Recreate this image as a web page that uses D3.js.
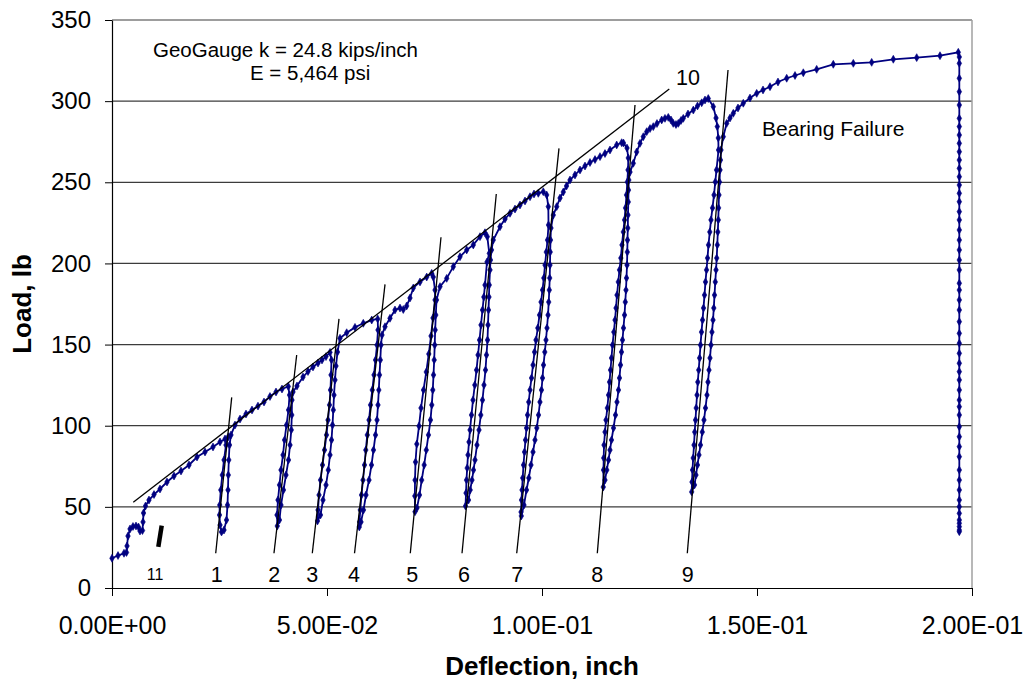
<!DOCTYPE html>
<html>
<head>
<meta charset="utf-8">
<script src="https://cdn.jsdelivr.net/npm/d3@7"></script>
<style>
  body { margin: 0; background: #fff; }
  svg { display: block; font-family: Arial, "Liberation Sans", sans-serif; }
  .tick text { font-size: 24px; fill: #000; }
  .x-axis .tick text { font-size: 25px; }
  .note { font-size: 20.5px; }
  .note.big { font-size: 21px; }
  .cycle-label { font-size: 21.5px; text-anchor: middle; }
  .axis-title { font-size: 26px; font-weight: bold; text-anchor: middle; }
</style>
</head>
<body>
<svg id="chart" width="1026" height="684"></svg>
<script>
// deflection (inch), load (lb) pairs, one array per load cycle
const initialLoading = [
  [0.0000, 18.3], [0.00140, 20.0], [0.00279, 21.4], [0.00337, 21.9], [0.00349, 25.9], [0.00372, 32.0],
  [0.00419, 36.4], [0.00488, 37.9], [0.00558, 38.2], [0.00616, 37.6], [0.00651, 35.1], [0.00709, 35.4],
  [0.00721, 40.7], [0.00733, 46.2], [0.00779, 50.5], [0.00860, 54.2], [0.00977, 57.6], [0.01116, 61.0],
  [0.01279, 65.3], [0.01442, 69.0], [0.01605, 72.1], [0.01791, 75.8], [0.01977, 80.7], [0.02163, 83.8],
  [0.02349, 86.9], [0.02512, 90.0], [0.02628, 91.8], [0.02705, 93.2]
];
const cycle1 = [
  [0.02651, 88.1], [0.02605, 78.9], [0.02565, 69.6], [0.02530, 60.4], [0.02505, 51.1], [0.02500, 45.0],
  [0.02512, 38.8], [0.02547, 34.5], [0.02605, 35.7], [0.02663, 41.9], [0.02686, 51.1], [0.02698, 60.4],
  [0.02705, 69.6], [0.02716, 78.9], [0.02733, 88.1], [0.02767, 94.3], [0.02860, 100.4], [0.02977, 104.1],
  [0.03116, 107.2], [0.03256, 109.7], [0.03395, 112.1], [0.03535, 114.6], [0.03674, 118.0], [0.03814, 120.8],
  [0.03953, 122.6], [0.04100, 124.2]
];
const cycle2 = [
  [0.04128, 118.9], [0.04105, 109.7], [0.04058, 100.4], [0.04012, 91.2], [0.03977, 82.0], [0.03930, 72.7],
  [0.03895, 63.5], [0.03860, 54.2], [0.03837, 45.0], [0.03844, 38.2], [0.03895, 41.9], [0.03930, 51.1],
  [0.03988, 60.4], [0.04046, 69.6], [0.04105, 78.9], [0.04140, 88.1], [0.04170, 97.4], [0.04181, 106.6],
  [0.04186, 115.8], [0.04209, 120.8], [0.04302, 124.5], [0.04442, 130.0], [0.04558, 133.4], [0.04674, 136.2],
  [0.04791, 138.6], [0.04884, 140.5], [0.04977, 142.6], [0.05070, 145.2]
];
const cycle3 = [
  [0.05105, 140.5], [0.05093, 131.3], [0.05081, 122.0], [0.05058, 112.8], [0.05023, 103.5], [0.04988, 94.3],
  [0.04942, 85.0], [0.04895, 75.8], [0.04849, 66.5], [0.04814, 57.3], [0.04791, 48.1], [0.04779, 41.3],
  [0.04849, 45.0], [0.04907, 54.2], [0.04977, 63.5], [0.05030, 72.7], [0.05070, 82.0], [0.05105, 91.2],
  [0.05128, 100.4], [0.05147, 109.7], [0.05163, 118.9], [0.05186, 128.2], [0.05209, 136.8], [0.05244, 145.4],
  [0.05302, 153.9], [0.05458, 157.3], [0.05651, 160.6], [0.05844, 163.1], [0.06040, 165.1], [0.06179, 165.8]
];
const cycle4 = [
  [0.06186, 159.0], [0.06163, 149.7], [0.06128, 140.5], [0.06093, 131.3], [0.06053, 122.0], [0.06012, 112.8],
  [0.05977, 103.5], [0.05937, 94.3], [0.05902, 85.0], [0.05872, 75.8], [0.05837, 66.5], [0.05802, 57.3],
  [0.05774, 48.1], [0.05756, 40.7], [0.05751, 37.6], [0.05791, 40.7], [0.05849, 48.1], [0.05907, 57.3],
  [0.05977, 66.5], [0.06035, 75.8], [0.06081, 85.0], [0.06128, 94.3], [0.06163, 103.5], [0.06186, 112.8],
  [0.06205, 122.0], [0.06221, 131.3], [0.06240, 140.5], [0.06256, 149.7], [0.06279, 155.9], [0.06349, 161.0],
  [0.06465, 166.2], [0.06581, 171.3], [0.06698, 172.5], [0.06774, 171.6], [0.06853, 173.8], [0.06930, 178.7],
  [0.07007, 184.9], [0.07163, 188.6], [0.07319, 191.6], [0.07435, 193.9]
];
const cycle5 = [
  [0.07472, 191.6], [0.07512, 183.6], [0.07512, 177.5], [0.07465, 166.4], [0.07419, 155.3], [0.07367, 144.2],
  [0.07309, 133.1], [0.07244, 122.0], [0.07186, 110.9], [0.07140, 99.8], [0.07088, 88.7], [0.07058, 77.6],
  [0.07047, 66.5], [0.07042, 56.7], [0.07047, 47.0], [0.07093, 49.3], [0.07151, 57.3], [0.07202, 66.5],
  [0.07260, 75.8], [0.07309, 85.0], [0.07360, 94.3], [0.07407, 103.5], [0.07437, 112.8], [0.07460, 122.0],
  [0.07477, 131.3], [0.07493, 140.5], [0.07505, 149.7], [0.07516, 159.0], [0.07530, 168.2], [0.07547, 177.5],
  [0.07628, 185.7], [0.07784, 190.8], [0.07937, 198.0], [0.08093, 204.1], [0.08249, 208.3], [0.08402, 211.4],
  [0.08558, 216.5], [0.08674, 218.9]
];
const cycle6 = [
  [0.08728, 216.5], [0.08774, 206.2], [0.08721, 200.9], [0.08674, 186.7], [0.08647, 179.3], [0.08616, 171.3],
  [0.08581, 162.1], [0.08547, 152.8], [0.08512, 143.6], [0.08477, 134.3], [0.08437, 125.1], [0.08395, 115.8],
  [0.08360, 106.6], [0.08326, 97.4], [0.08302, 90.0], [0.08279, 82.0], [0.08260, 73.9], [0.08244, 66.5],
  [0.08233, 58.5], [0.08221, 50.5], [0.08291, 54.2], [0.08330, 60.4], [0.08372, 66.5], [0.08407, 72.7],
  [0.08442, 78.9], [0.08488, 88.1], [0.08535, 97.4], [0.08577, 106.6], [0.08616, 115.8], [0.08651, 125.1],
  [0.08686, 134.3], [0.08709, 143.6], [0.08733, 152.8], [0.08744, 162.1], [0.08756, 171.3], [0.08767, 179.3],
  [0.08774, 186.7], [0.08791, 196.0], [0.08802, 202.1], [0.08826, 208.3], [0.08867, 214.4], [0.09023, 222.6],
  [0.09140, 227.4], [0.09256, 230.9], [0.09372, 233.5], [0.09488, 236.0], [0.09605, 238.5], [0.09721, 241.1],
  [0.09814, 242.8], [0.09914, 243.2], [0.10030, 244.2]
];
const cycle7 = [
  [0.10109, 242.2], [0.10147, 235.0], [0.10151, 223.7], [0.10128, 214.4], [0.10100, 207.0], [0.10070, 199.0],
  [0.10042, 191.0], [0.10012, 183.6], [0.09977, 176.2], [0.09942, 168.2], [0.09902, 160.2], [0.09860, 152.8],
  [0.09826, 145.4], [0.09791, 137.4], [0.09756, 129.4], [0.09721, 122.0], [0.09691, 114.6], [0.09663, 106.6],
  [0.09640, 98.6], [0.09616, 91.2], [0.09593, 83.8], [0.09570, 75.8], [0.09551, 67.8], [0.09535, 60.4],
  [0.09523, 54.2], [0.09512, 46.8], [0.09519, 44.4], [0.09581, 51.1], [0.09640, 60.4], [0.09693, 67.8],
  [0.09744, 75.8], [0.09791, 83.8], [0.09837, 91.2], [0.09879, 98.6], [0.09919, 106.6], [0.09953, 114.6],
  [0.09988, 122.0], [0.10012, 129.4], [0.10035, 137.4], [0.10065, 145.4], [0.10093, 152.8], [0.10116, 160.2],
  [0.10140, 168.2], [0.10156, 176.2], [0.10170, 183.6], [0.10179, 191.0], [0.10186, 199.0], [0.10191, 207.0],
  [0.10198, 214.4], [0.10209, 221.8], [0.10263, 229.8], [0.10342, 235.0], [0.10419, 240.3], [0.10495, 244.0],
  [0.10570, 247.7], [0.10651, 251.4], [0.10767, 254.5], [0.10884, 257.6], [0.11000, 260.0], [0.11116, 262.2],
  [0.11233, 264.0], [0.11349, 265.8], [0.11465, 267.7], [0.11581, 269.9], [0.11737, 273.0], [0.11853, 274.4],
  [0.11895, 274.2]
];
const cycle8 = [
  [0.11977, 271.1], [0.12007, 265.0], [0.12000, 257.6], [0.11984, 250.2], [0.11965, 242.2], [0.11942, 234.2],
  [0.11919, 226.8], [0.11891, 219.4], [0.11860, 211.4], [0.11833, 203.3], [0.11802, 196.0], [0.11774, 188.6],
  [0.11744, 180.5], [0.11721, 172.5], [0.11698, 165.1], [0.11670, 157.7], [0.11640, 149.7], [0.11616, 141.7],
  [0.11593, 134.3], [0.11570, 126.9], [0.11547, 118.9], [0.11519, 110.9], [0.11488, 103.5], [0.11465, 96.1],
  [0.11442, 88.1], [0.11435, 80.1], [0.11430, 72.7], [0.11425, 62.2], [0.11465, 66.5], [0.11507, 72.7],
  [0.11547, 78.9], [0.11581, 85.0], [0.11616, 91.2], [0.11663, 98.6], [0.11709, 106.6], [0.11744, 114.6],
  [0.11779, 122.0], [0.11802, 129.4], [0.11826, 137.4], [0.11849, 145.4], [0.11872, 152.8], [0.11895, 160.2],
  [0.11919, 168.2], [0.11937, 176.2], [0.11953, 183.6], [0.11965, 191.0], [0.11977, 199.0], [0.11984, 207.0],
  [0.11988, 214.4], [0.11995, 221.8], [0.12000, 229.8], [0.12007, 237.9], [0.12012, 245.2], [0.12019, 251.4],
  [0.12047, 256.3], [0.12123, 261.7], [0.12202, 268.7], [0.12279, 274.0], [0.12356, 278.1], [0.12435, 281.2],
  [0.12512, 283.1], [0.12588, 284.3], [0.12674, 286.2], [0.12784, 288.4], [0.12860, 289.4], [0.12937, 290.0],
  [0.13000, 288.4], [0.13053, 286.3], [0.13116, 285.6], [0.13170, 286.3], [0.13233, 288.1], [0.13286, 289.4],
  [0.13395, 292.1], [0.13519, 294.5], [0.13616, 297.0], [0.13714, 299.0], [0.13791, 300.7], [0.13867, 301.6]
];
const cycle9 = [
  [0.13984, 296.6], [0.14047, 289.6], [0.14077, 284.3], [0.14100, 277.3], [0.14105, 269.9], [0.14058, 257.6],
  [0.14030, 250.2], [0.14000, 242.2], [0.13965, 234.2], [0.13930, 226.8], [0.13902, 219.4], [0.13872, 211.4],
  [0.13849, 203.3], [0.13826, 196.0], [0.13802, 188.6], [0.13779, 180.5], [0.13756, 172.5], [0.13733, 165.1],
  [0.13709, 157.7], [0.13686, 149.7], [0.13665, 141.7], [0.13644, 134.3], [0.13623, 126.9], [0.13605, 118.9],
  [0.13586, 110.9], [0.13570, 103.5], [0.13551, 96.1], [0.13535, 88.1], [0.13516, 80.1], [0.13500, 72.7],
  [0.13488, 65.3], [0.13481, 59.2], [0.13547, 63.5], [0.13581, 69.6], [0.13616, 75.8], [0.13651, 82.0],
  [0.13686, 88.1], [0.13728, 96.1], [0.13767, 103.5], [0.13802, 110.9], [0.13837, 118.9], [0.13860, 126.9],
  [0.13884, 134.3], [0.13907, 141.7], [0.13930, 149.7], [0.13953, 157.7], [0.13977, 165.1], [0.13995, 172.5],
  [0.14012, 180.5], [0.14030, 188.6], [0.14047, 196.0], [0.14063, 203.3], [0.14077, 211.4], [0.14088, 219.4],
  [0.14100, 226.8], [0.14107, 234.2], [0.14116, 242.2], [0.14128, 250.2], [0.14140, 257.6], [0.14151, 263.7],
  [0.14163, 269.9]
];
const bearingFailure = [
  [0.14216, 278.1], [0.14295, 286.3], [0.14372, 289.6], [0.14449, 292.5], [0.14558, 295.8], [0.14681, 298.7],
  [0.14837, 301.9], [0.14993, 304.8], [0.15140, 306.9], [0.15302, 308.9], [0.15488, 311.8], [0.15691, 314.1],
  [0.15884, 315.8], [0.16077, 317.5], [0.16388, 319.6], [0.16774, 322.7], [0.17240, 323.3], [0.17667, 323.9],
  [0.18170, 325.8], [0.18714, 326.8], [0.19256, 328.0], [0.19681, 330.1]
];
// final unloading, all at the same deflection
const failureDeflection = 0.19705;
const failureUnloadLoads = [
  327.2, 323.3, 314.1, 305.8, 297.6, 289.4, 284.3, 279.1, 274.0, 268.8, 263.7, 258.6, 253.4, 248.3,
  243.2, 238.0, 231.9, 226.8, 220.6, 214.4, 208.3, 202.1, 196.0, 187.8, 183.6, 177.5, 171.3, 164.1,
  156.9, 150.8, 144.6, 138.5, 133.3, 128.2, 122.0, 115.8, 111.7, 106.6, 99.4, 93.2, 87.1, 80.9,
  72.7, 66.5, 60.4, 54.2, 50.1, 46.0, 41.9, 39.9, 37.8, 35.7, 34.7
];

// reload stiffness lines [x1, y1, x2, y2] and their labels
const reloadLines = [
  [0.02412, 21.4, 0.02784, 117.5], [0.03767, 21.4, 0.04295, 143.6], [0.04658, 21.4, 0.05279, 165.8],
  [0.05640, 21.4, 0.06349, 187.1], [0.06937, 21.4, 0.07651, 216.1], [0.08140, 21.4, 0.08937, 242.8],
  [0.09412, 21.4, 0.10395, 270.9], [0.11286, 21.4, 0.12163, 297.6], [0.13379, 21.4, 0.14326, 319.2]
];
const reloadLabels = ["1", "2", "3", "4", "5", "6", "7", "8", "9"];
const reloadLabelX = [0.02435, 0.03774, 0.04658, 0.05628, 0.06984, 0.08186, 0.09426, 0.11286, 0.13388];
const envelopeLine = [0.00495, 52.8, 0.12960, 307.5];   // line "10"
const seatingLine = [0.01156, 38.4, 0.01077, 25.4];     // line "11"

const yTicks = [0, 50, 100, 150, 200, 250, 300, 350];
const xTicks = [0, 0.05, 0.1, 0.15, 0.2];
const xTickLabels = ["0.00E+00", "5.00E-02", "1.00E-01", "1.50E-01", "2.00E-01"];

const notes = [
  { text: "GeoGauge k = 24.8 kips/inch", x: 0.00953, y: 327.2 },
  { text: "E = 5,464 psi", x: 0.03209, y: 313.0 },
  { text: "Bearing Failure", x: 0.15116, y: 278.5 }
];

const loadCurve = [].concat(
  initialLoading, cycle1, cycle2, cycle3, cycle4, cycle5, cycle6, cycle7, cycle8, cycle9,
  bearingFailure, failureUnloadLoads.map((l) => [failureDeflection, l])
);

const svg = d3.select("#chart");
const margin = { top: 20, right: 54, bottom: 96, left: 112 };
const width = 1026 - margin.left - margin.right;
const height = 684 - margin.top - margin.bottom;

svg.append("rect").attr("width", 1026).attr("height", 684).attr("fill", "#fff");

const chart = svg.append("g").attr("transform", `translate(${margin.left}, ${margin.top})`);

const xScale = d3.scaleLinear().domain([0, 0.2]).range([0, width]);
const yScale = d3.scaleLinear().domain([0, 350]).range([height, 0]);

// horizontal gridlines
chart.selectAll(".grid")
  .data(yTicks.filter((d) => d > 0))
  .enter()
  .append("line")
  .attr("x1", 0)
  .attr("x2", width)
  .attr("y1", (d) => yScale(d))
  .attr("y2", (d) => yScale(d))
  .attr("stroke", "#3c3c3c")
  .attr("stroke-width", 1.2);

// right border of plot area
chart.append("line")
  .attr("x1", width).attr("x2", width)
  .attr("y1", 0).attr("y2", height)
  .attr("stroke", "#a0a0a0").attr("stroke-width", 1.5);

// x axis
const xAxis = chart.append("g")
  .attr("class", "x-axis")
  .attr("transform", `translate(0, ${height})`)
  .call(d3.axisBottom(xScale).tickValues(xTicks).tickFormat((d, i) => xTickLabels[i])
    .tickSize(8).tickSizeOuter(0).tickPadding(20));
xAxis.select(".domain").attr("stroke", "#000").attr("stroke-width", 1.2);

// y axis
const yAxis = chart.append("g")
  .call(d3.axisLeft(yScale).tickValues(yTicks).tickSize(7).tickSizeOuter(0).tickPadding(14));
yAxis.select(".domain").attr("stroke", "#000").attr("stroke-width", 1.2);
svg.selectAll(".tick line").attr("stroke", "#000");
svg.selectAll(".tick text").attr("font-family", null).attr("font-size", null);

// load-deflection curve
const line = d3.line().x((d) => xScale(d[0])).y((d) => yScale(d[1]));
chart.append("path")
  .datum(loadCurve)
  .attr("d", line)
  .attr("fill", "none")
  .attr("stroke", "#000080")
  .attr("stroke-width", 1.8);

chart.selectAll(".marker")
  .data(loadCurve)
  .enter()
  .append("path")
  .attr("d", d3.symbol(d3.symbolDiamond).size(18))
  .attr("transform", (d) => `translate(${xScale(d[0])}, ${yScale(d[1])})`)
  .attr("fill", "#000080")
  .attr("stroke", "#000080")
  .attr("stroke-width", 0.6);

// black annotation lines
chart.selectAll(".reload")
  .data(reloadLines.concat([envelopeLine]))
  .enter()
  .append("line")
  .attr("x1", (d) => xScale(d[0]))
  .attr("y1", (d) => yScale(d[1]))
  .attr("x2", (d) => xScale(d[2]))
  .attr("y2", (d) => yScale(d[3]))
  .attr("stroke", "#000")
  .attr("stroke-width", 1.3);

chart.append("line")
  .attr("x1", xScale(seatingLine[0])).attr("y1", yScale(seatingLine[1]))
  .attr("x2", xScale(seatingLine[2])).attr("y2", yScale(seatingLine[3]))
  .attr("stroke", "#000").attr("stroke-width", 4.5);

// cycle labels
chart.selectAll(".cycle-label")
  .data(reloadLabels)
  .enter()
  .append("text")
  .attr("class", "cycle-label")
  .attr("x", (d, i) => xScale(reloadLabelX[i]))
  .attr("y", yScale(3.7))
  .text((d) => d);

chart.append("text")
  .attr("class", "cycle-label")
  .attr("x", xScale(0.01000))
  .attr("y", yScale(4.9))
  .style("font-size", "16px")
  .text("11");

chart.append("text")
  .attr("class", "cycle-label")
  .attr("x", xScale(0.13395))
  .attr("y", yScale(310.0))
  .text("10");

// text notes
chart.selectAll(".note")
  .data(notes)
  .enter()
  .append("text")
  .attr("class", (d, i) => (i === 2 ? "note big" : "note"))
  .attr("x", (d) => xScale(d.x))
  .attr("y", (d) => yScale(d.y))
  .text((d) => d.text);

// axis titles
svg.append("text")
  .attr("class", "axis-title")
  .attr("x", margin.left + width / 2)
  .attr("y", 675)
  .text("Deflection, inch");

svg.append("text")
  .attr("class", "axis-title")
  .attr("transform", `translate(31, ${margin.top + height / 2}) rotate(-90)`)
  .text("Load, lb");
</script>
</body>
</html>
